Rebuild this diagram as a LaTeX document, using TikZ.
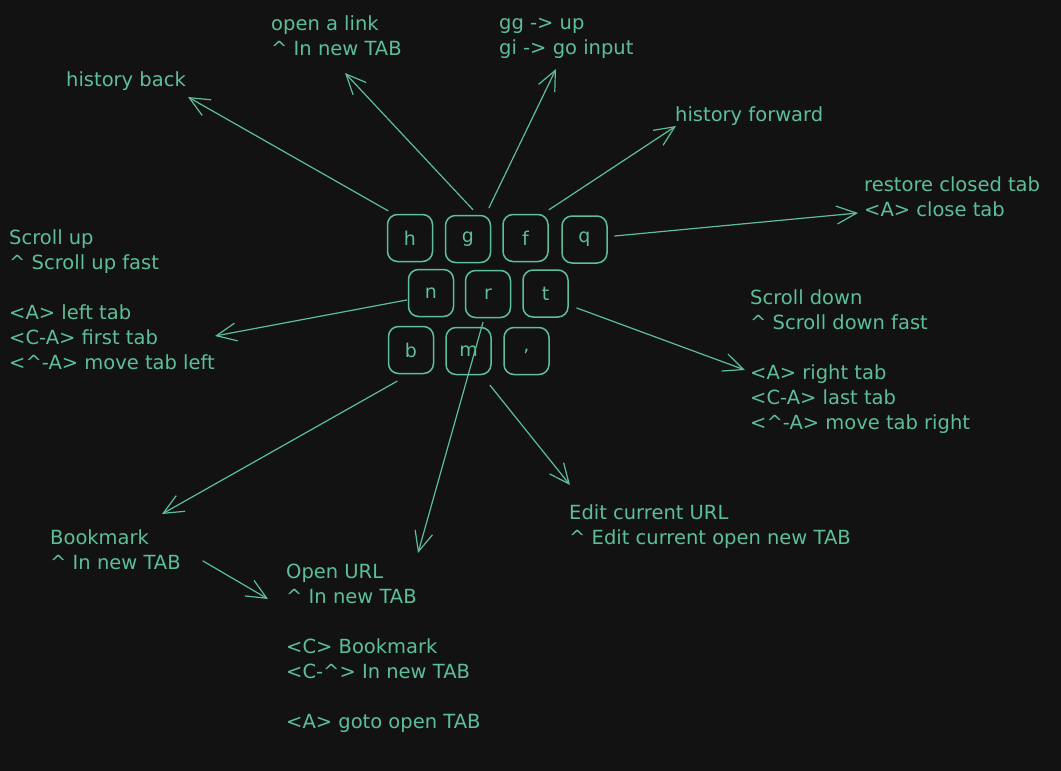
\documentclass[tikz,border=0pt]{standalone}
\usepackage{fontspec}
\setmainfont{DejaVu Sans}
\usetikzlibrary{arrows.meta,calc}
\definecolor{bg}{HTML}{121212}
\definecolor{ink}{HTML}{5CBF98}
\begin{document}
\begin{tikzpicture}[x=1pt,y=-1pt,
  key/.style={draw=ink, line width=1.5pt, rounded corners=10pt, minimum width=45pt,
    minimum height=47pt, inner sep=0pt, text=ink, font=\fontsize{19}{22}\selectfont},
  lbl/.style={text=ink, align=left, anchor=north west, inner sep=0pt,
    font=\fontsize{19.5}{25}\selectfont},
  arr/.style={draw=ink, line width=1.2pt, line cap=round,
    -{Straight Barb[length=20pt,width=18pt,line width=1.2pt]}},
]
\useasboundingbox[fill=bg] (0,0) rectangle (1061,771);

% keys
\node[key] (h)  at (410,238)   {h};
\node[key] (g)  at (468,239)   {g};
\node[key] (f)  at (525.5,238) {f};
\node[key] (q)  at (584.5,239.5) {q};
\node[key] (n)  at (431,293)   {n};
\node[key] (r)  at (488,294)   {r};
\node[key] (t)  at (545.5,293.5) {t};
\node[key] (b)  at (411,350)   {b};
\node[key] (m)  at (468.5,351) {m};
\node[key] (cm) at (526.5,351) {,};

% labels
\node[lbl] (hb) at (66,71)   {history back};
\node[lbl] (ol) at (271,15)  {open a link\\\^{} In new TAB};
\node[lbl] (gg) at (499,18)  {gg -> up\\gi -> go input};
\node[lbl] (hf) at (675,106) {history forward};
\node[lbl] (rc) at (864,176) {restore closed tab\\<A> close tab};
\node[lbl] (su) at (9,229)   {Scroll up\\\^{} Scroll up fast\\[25pt]<A> left tab\\<C-A> first tab\\<\^{}-A> move tab left};
\node[lbl] (sd) at (750,289) {Scroll down\\\^{} Scroll down fast\\[25pt]<A> right tab\\<C-A> last tab\\<\^{}-A> move tab right};
\node[lbl] (ed) at (569,504) {Edit current URL\\\^{} Edit current open new TAB};
\node[lbl] (bm) at (50,529)  {Bookmark\\\^{} In new TAB};
\node[lbl] (ou) at (286,564) {Open URL\\\^{} In new TAB\\[25pt]<C> Bookmark\\<C-\^{}> In new TAB\\[25pt]<A> goto open TAB};

% arrow tips
\coordinate (tHB) at (188,97);
\coordinate (tOL) at (345,73);
\coordinate (tGG) at (556,69);
\coordinate (tHF) at (676,126);
\coordinate (tRC) at (858,213);
\coordinate (tSU) at (215,336);
\coordinate (tSD) at (745,370);
\coordinate (tBM) at (162,514);
\coordinate (tOU) at (418,553);
\coordinate (tED) at (570,485);
\coordinate (sBO) at (203,561);
\coordinate (tBO) at (268,599);

% connectors
\draw[arr] ($(h.north)+(-22,-3)$) -- (tHB);
\draw[arr] ($(g.north)+(5,-5)$) -- (tOL);
\draw[arr] ($(g.north)+(21,-7)$) -- (tGG);
\draw[arr] ($(f.north)+(23.5,-4)$) -- (tHF);
\draw[arr] ($(q.east)+(7,-3.5)$) -- (tRC);
\draw[arr] ($(n.west)+(-1,7)$) -- (tSU);
\draw[arr] ($(t.east)+(8,14.5)$) -- (tSD);
\draw[arr] ($(b.south)+(-14,7)$) -- (tBM);
\draw[arr] ($(r.south)+(-5,4)$) -- (tOU);
\draw[arr] ($(cm.south)+(-36.5,10)$) -- (tED);
\draw[arr] (sBO) -- (tBO);
\end{tikzpicture}
\end{document}
